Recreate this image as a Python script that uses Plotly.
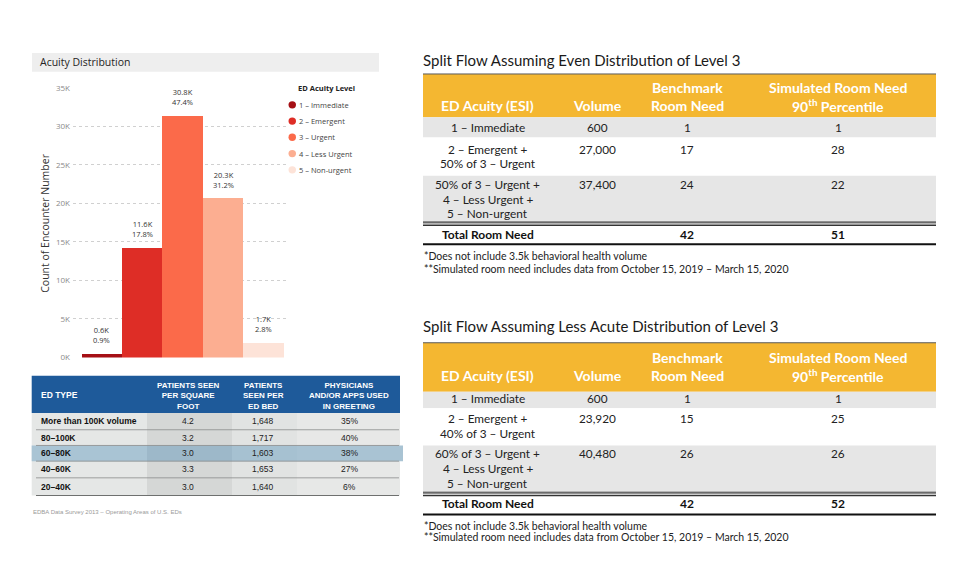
import plotly.graph_objects as go

W, H = 971, 577

# ---------------- data ----------------
acuity_levels = ["1 – Immediate", "2 – Emergent", "3 – Urgent", "4 – Less Urgent", "5 – Non-urgent"]
encounter_counts = [550, 14300, 31400, 20700, 1950]
count_labels = ["0.6K", "11.6K", "30.8K", "20.3K", "1.7K"]
share_labels = ["0.9%", "17.8%", "47.4%", "31.2%", "2.8%"]
y_tick_values = [0, 5000, 10000, 15000, 20000, 25000, 30000, 35000]
y_tick_labels = ["0K", "5K", "10K", "15K", "20K", "25K", "30K", "35K"]

survey_headers = ["ED TYPE", "PATIENTS SEEN<br>PER SQUARE<br>FOOT", "PATIENTS<br>SEEN PER<br>ED BED",
                  "PHYSICIANS<br>AND/OR APPS USED<br>IN GREETING"]
ed_types = ["More than 100K volume", "80–100K", "60–80K", "40–60K", "20–40K"]
patients_per_sqft = ["4.2", "3.2", "3.0", "3.3", "3.0"]
patients_per_bed = [1648, 1717, 1603, 1653, 1640]
physicians_greeting = ["35%", "40%", "38%", "27%", "6%"]
highlight_row = 2
survey_source = "EDBA Data Survey 2013 – Operating Areas of U.S. EDs"

split_headers = ["ED Acuity (ESI)", "Volume", "Benchmark<br>Room Need", "Simulated Room Need<br>90<sup>th</sup> Percentile"]
even_title = "Split Flow Assuming Even Distribution of Level 3"
even_groups = ["1 – Immediate", "2 – Emergent +<br>50% of 3 – Urgent",
               "50% of 3 – Urgent +<br>4 – Less Urgent +<br>5 – Non-urgent"]
even_volume = [600, 27000, 37400]
even_benchmark = [1, 17, 24]
even_simulated = [1, 28, 22]
even_totals = [42, 51]
less_title = "Split Flow Assuming Less Acute Distribution of Level 3"
less_groups = ["1 – Immediate", "2 – Emergent +<br>40% of 3 – Urgent",
               "60% of 3 – Urgent +<br>4 – Less Urgent +<br>5 – Non-urgent"]
less_volume = [600, 23920, 40480]
less_benchmark = [1, 15, 26]
less_simulated = [1, 25, 26]
less_totals = [42, 52]
total_label = "Total Room Need"
footnotes = ["*Does not include 3.5k behavioral health volume",
             "**Simulated room need includes data from October 15, 2019 – March 15, 2020"]

# ---------------- styles ----------------
acuity_colors = ["#A50F15", "#DE2D26", "#FB6A4A", "#FCAE91", "#FDE3D8"]
PBI_FONT = "Open Sans"
TAB_FONT = "Lato"
SURVEY_FONT = "Liberation Sans"


def X(px):
    return px / W


def Y(py):
    return 1 - py / H


shapes = []
annotations = []


def rect(x0, y0, x1, y1, fill, line_color=None, lw=0):
    shapes.append(dict(type="rect", xref="paper", yref="paper", x0=X(x0), x1=X(x1), y0=Y(y1), y1=Y(y0),
                       fillcolor=fill, line=dict(width=lw, color=line_color or fill), layer="below"))


def hline(x0, x1, y, color, width):
    shapes.append(dict(type="line", xref="paper", yref="paper", x0=X(x0), x1=X(x1), y0=Y(y), y1=Y(y),
                       line=dict(color=color, width=width)))


def text(x, y, s, size, color="#222", font=TAB_FONT, bold=False, xanchor="center", yanchor="middle", angle=0):
    if bold:
        s = "<b>" + s + "</b>"
    annotations.append(dict(xref="paper", yref="paper", x=X(x), y=Y(y), text=s, showarrow=False,
                            xanchor=xanchor, yanchor=yanchor, textangle=angle, borderpad=0,
                            font=dict(family=font, size=size, color=color)))


def lines_text(x, y_first, s, step, size, **kw):
    for i, part in enumerate(s.split("<br>")):
        text(x, y_first + i * step, part, size, **kw)


fig = go.Figure()

# ---------------- Acuity distribution bar chart ----------------
idx = list(range(len(acuity_levels)))
fig.add_trace(go.Bar(x=idx, y=encounter_counts, marker=dict(color=acuity_colors, line=dict(width=0)),
                     width=1, showlegend=False, hovertext=acuity_levels))
for i in idx:
    annotations.append(dict(xref="x", yref="y", x=i, y=encounter_counts[i],
                            text=f"{count_labels[i]}<br>{share_labels[i]}",
                            showarrow=False, yanchor="middle", yshift=18, borderpad=0,
                            font=dict(family=PBI_FONT, size=7.5, color="#333")))

# header bar of visual
rect(32, 48, 379, 67, "#EEEEEE")
text(39, 57.5, "Acuity Distribution", 10.5, color="#252423", font=PBI_FONT, xanchor="left")
text(45, 222, "Count of Encounter Number", 10.5, color="#333", font=PBI_FONT, angle=-90)

# legend
text(297, 83.5, "ED Acuity Level", 7.5, color="#222", font=PBI_FONT, bold=True, xanchor="left")
leg_y = [100.7, 117.3, 133.8, 150.4, 167]
for name, col, ly in zip(acuity_levels, acuity_colors, leg_y):
    shapes.append(dict(type="circle", xref="paper", yref="paper", x0=X(288.5), x1=X(296), y0=Y(ly + 3.7),
                       y1=Y(ly - 3.7), fillcolor=col, line=dict(width=0)))
    text(298, ly, name, 7.5, color="#444", font=PBI_FONT, xanchor="left")

# ---------------- survey table (lower left) ----------------
col_bounds = [31.7, 147, 232, 297, 400]
col_fill = ["#E5E7E6", "#D5D7D6", "#E1E3E2", "#E7E8E7"]
hl_fill = ["#A9C4D4", "#9DB8C9", "#A6C1D1", "#A9C3D3"]
head_top, head_bot = 377, 415
row_edges = [415, 432, 448, 464, 481, 499]
rect(31.7, head_top, 400, head_bot, "#1E5A9A")
for c in range(4):
    rect(col_bounds[c], head_bot, col_bounds[c + 1], row_edges[-1], col_fill[c])
for c in range(4):
    rect(col_bounds[c], row_edges[highlight_row], col_bounds[c + 1] + (3 if c == 3 else 0),
         row_edges[highlight_row + 1], hl_fill[c])
for e in row_edges[1:-1]:
    hline(36, 399, e, "#8A8C8B", 0.8)
hline(36, 399, row_edges[-1], "#6E706F", 1.2)

col_centers = [40, 188, 263, 349]
text(col_centers[0], 397, survey_headers[0], 8.5, color="white", font=SURVEY_FONT, bold=True, xanchor="left")
for c in range(1, 4):
    text(col_centers[c], 397.5, survey_headers[c], 8, color="white", font=SURVEY_FONT, bold=True)
for r in range(len(ed_types)):
    yc = (row_edges[r] + row_edges[r + 1]) / 2
    text(col_centers[0], yc, ed_types[r], 8.5, color="#111", font=SURVEY_FONT, bold=True, xanchor="left")
    text(col_centers[1], yc, patients_per_sqft[r], 8.5, color="#222", font=SURVEY_FONT)
    text(col_centers[2], yc, f"{patients_per_bed[r]:,}", 8.5, color="#222", font=SURVEY_FONT)
    text(col_centers[3], yc, physicians_greeting[r], 8.5, color="#222", font=SURVEY_FONT)
text(32, 516, survey_source, 6, color="#9A9A9A", font=SURVEY_FONT, xanchor="left")


# ---------------- split flow tables (right) ----------------
def split_table(title, groups, volume, bench, sim, totals, g):
    x0, x1 = 423, 936
    cx = [488, 597, 687, 838]
    text(422, g["title"], title, 15, color="#1a1a1a", xanchor="left")
    rect(x0, g["head"][0], x1, g["head"][1], "#F4B731")
    hline(x0, x1, g["head"][0], "#5a5a5a", 1)
    for c, h in enumerate(split_headers):
        parts = h.split("<br>")
        ys = [g["h2"]] if len(parts) == 1 else [g["h1"], g["h2"]]
        for p, yy in zip(parts, ys):
            text(cx[c], yy, p, 14, color="white", bold=True)
    for r, (top, bot, first) in enumerate(g["rows"]):
        rect(x0, top, x1, bot, "#E6E6E6" if r % 2 == 0 else "#FFFFFF")
        lines_text(cx[0], first, groups[r], g["lh"], 11.8)
        text(cx[1], first, f"{volume[r]:,}", 11.8)
        text(cx[2], first, str(bench[r]), 11.8)
        text(cx[3], first, str(sim[r]), 11.8)
    hline(x0, x1, g["dbl"][0], "#6A6A6A", 2.2)
    hline(x0, x1, g["dbl"][1], "#333333", 1.3)
    text(cx[0], g["total"], total_label, 12, color="#111", bold=True)
    text(cx[2], g["total"], str(totals[0]), 12, color="#111", bold=True)
    text(cx[3], g["total"], str(totals[1]), 12, color="#111", bold=True)
    hline(x0, x1, g["bottom"], "#111111", 2)
    for f, yy in zip(footnotes, g["foot"]):
        text(423, yy, f, 10.5, color="#222", xanchor="left")


geo_even = dict(title=55, head=(69.3, 113.3), h1=83.3, h2=101.7,
                rows=[(113.3, 134, 124), (134, 173, 146), (173, 219.5, 182)], lh=14.8,
                dbl=(220.5, 223.5), total=232.7, bottom=243, foot=(255, 267.7))
geo_less = dict(title=326.7, head=(343.3, 393.3), h1=358.3, h2=376.7,
                rows=[(393.3, 410, 400), (410, 448, 421), (448, 494.5, 456.7)], lh=15,
                dbl=(496, 499), total=507.5, bottom=518.5, foot=(530, 541.7))
split_table(even_title, even_groups, even_volume, even_benchmark, even_simulated, even_totals, geo_even)
split_table(less_title, less_groups, less_volume, less_benchmark, less_simulated, less_totals, geo_less)

fig.update_layout(
    width=W, height=H, margin=dict(l=0, r=0, t=0, b=0),
    paper_bgcolor="white", plot_bgcolor="rgba(0,0,0,0)",
    bargap=0, showlegend=False,
    xaxis=dict(domain=[X(73), X(288)], range=[-0.71, 4.6], showticklabels=False, showgrid=False,
               zeroline=False, showline=False, fixedrange=True),
    yaxis=dict(domain=[Y(358.3), Y(83.3)], range=[0, 35000], tickvals=y_tick_values, ticktext=y_tick_labels,
               tickfont=dict(family=PBI_FONT, size=8, color="#8A8A8A"), showgrid=True, gridcolor="#D0D0D0",
               griddash="dot", gridwidth=1, zeroline=False, showline=False, ticks="", ticklabelstandoff=2),
    shapes=shapes, annotations=annotations,
)

fig.write_html("out.html", config={"displayModeBar": False},
               post_script="document.body.style.margin='0';document.documentElement.style.overflow='hidden';")
